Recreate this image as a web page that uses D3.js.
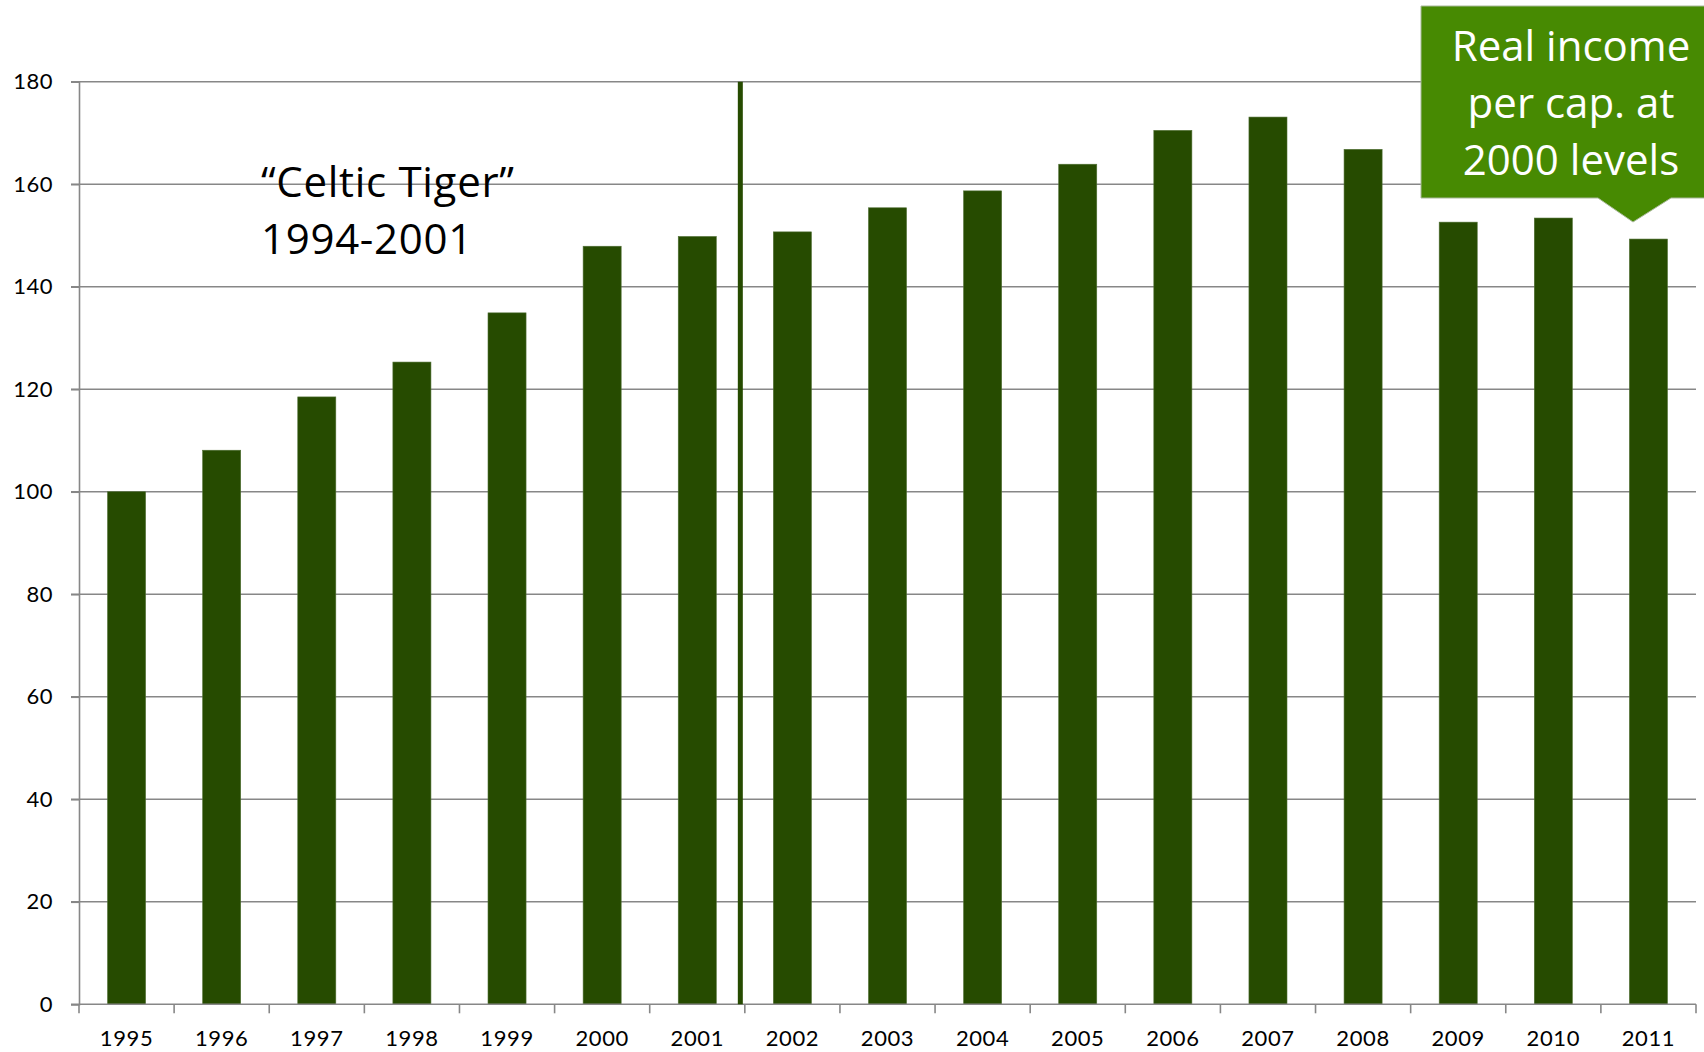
<!DOCTYPE html>
<html>
<head>
<meta charset="utf-8">
<script src="https://cdn.jsdelivr.net/npm/d3@7"></script>
<style>
  html, body { margin: 0; padding: 0; background: #ffffff; }
  svg { display: block; }
  text { font-family: Lato, "Open Sans", "Noto Sans", sans-serif; }
</style>
</head>
<body>
<svg id="chart" width="1704" height="1052"></svg>
<script>
// Real income per capita index (1995 = 100)
const years = ["1995","1996","1997","1998","1999","2000","2001","2002","2003",
               "2004","2005","2006","2007","2008","2009","2010","2011"];
const incomeIndex = [100, 108.1, 118.5, 125.3, 134.9, 147.9, 149.8, 150.7, 155.4,
                     158.7, 163.9, 170.5, 173.1, 166.8, 152.6, 153.4, 149.3];
const yTicks = [0, 20, 40, 60, 80, 100, 120, 140, 160, 180];
const periodLabel = ["\u201CCeltic Tiger\u201D", "1994-2001"];
const periodEndYear = "2001";
const calloutLines = ["Real income", "per cap. at", "2000 levels"];

const data = years.map((yr, i) => ({ year: yr, value: incomeIndex[i] }));

const svg = d3.select("#chart");
const plotLeft = 79, plotRight = 1696, plotTop = 81.7, plotBottom = 1004.3;

const x = d3.scaleBand()
  .domain(years)
  .range([plotLeft, plotRight])
  .paddingInner(0.6)
  .paddingOuter(0.3);

const y = d3.scaleLinear()
  .domain([0, 180])
  .range([plotBottom, plotTop]);

const gridColor = "#878787";
const barColor = "#264b00";
const labelFont = "Lato, sans-serif";
const noteFont = "'Open Sans', sans-serif";

// horizontal gridlines (including the top one)
svg.append("g")
  .selectAll("line")
  .data(yTicks.filter(t => t > 0))
  .join("line")
  .attr("x1", plotLeft - 8)
  .attr("x2", plotRight)
  .attr("y1", d => y(d))
  .attr("y2", d => y(d))
  .attr("stroke", gridColor)
  .attr("stroke-width", 1.6);

// y axis
const yAxis = svg.append("g")
  .attr("transform", `translate(${plotLeft},0)`)
  .call(d3.axisLeft(y).tickValues(yTicks).tickSize(8).tickPadding(18));
yAxis.select(".domain").attr("stroke", gridColor).attr("stroke-width", 1.6);
yAxis.selectAll(".tick line").attr("stroke", gridColor).attr("stroke-width", 1.6);
yAxis.selectAll(".tick text")
  .attr("font-size", 22)
  .attr("fill", "#000")
  .style("letter-spacing", "0.5px")
  .style("font-family", labelFont);

// bars
svg.append("g")
  .selectAll("rect")
  .data(data)
  .join("rect")
  .attr("x", d => x(d.year))
  .attr("width", x.bandwidth())
  .attr("y", d => y(d.value))
  .attr("height", d => y(0) - y(d.value))
  .attr("fill", barColor)
  .attr("stroke", "#4f6f33")
  .attr("stroke-width", 0.6);

// x axis: labels centred under bars, ticks at category boundaries
const gap = x.step() - x.bandwidth();
const boundaries = years.map(yr => x(yr) - gap / 2).concat([plotRight]);

const xAxis = svg.append("g")
  .attr("transform", `translate(0,${plotBottom})`)
  .call(d3.axisBottom(x).tickSize(0).tickPadding(26));
xAxis.select(".domain").remove();
xAxis.selectAll(".tick text")
  .attr("font-size", 22)
  .attr("fill", "#000")
  .style("letter-spacing", "0.6px")
  .style("font-family", labelFont);

svg.append("line")
  .attr("x1", plotLeft - 8).attr("x2", plotRight)
  .attr("y1", plotBottom).attr("y2", plotBottom)
  .attr("stroke", gridColor).attr("stroke-width", 1.6);

svg.append("g")
  .selectAll("line")
  .data(boundaries)
  .join("line")
  .attr("x1", d => d).attr("x2", d => d)
  .attr("y1", plotBottom).attr("y2", plotBottom + 9)
  .attr("stroke", gridColor).attr("stroke-width", 1.6);

// end-of-period divider
const dividerX = x(periodEndYear) + x.bandwidth() + gap / 2 - 4.5;
svg.append("line")
  .attr("x1", dividerX).attr("x2", dividerX)
  .attr("y1", y(180)).attr("y2", y(0))
  .attr("stroke", barColor)
  .attr("stroke-width", 5);

// period annotation
const note = svg.append("text")
  .attr("x", 261)
  .attr("y", 197)
  .attr("font-size", 42)
  .style("font-family", noteFont)
  .style("letter-spacing", "0.7px")
  .attr("fill", "#000");
note.selectAll("tspan")
  .data(periodLabel)
  .join("tspan")
  .attr("x", 261)
  .attr("dy", (d, i) => i === 0 ? 0 : 57)
  .text(d => d);

// callout box with pointer
const calloutColor = "#478a02";
const bx0 = 1421, bx1 = 1706, by0 = 6, by1 = 198;
const tipX = 1633, tipY = 222;
svg.append("path")
  .attr("d", `M${bx0},${by0} L${bx1},${by0} L${bx1},${by1} L${tipX + 38},${by1} L${tipX},${tipY} L${tipX - 35},${by1} L${bx0},${by1} Z`)
  .attr("fill", calloutColor)
  .attr("stroke", "#a9b99a")
  .attr("stroke-width", 1);

svg.append("g")
  .selectAll("text")
  .data(calloutLines)
  .join("text")
  .attr("x", 1571)
  .attr("y", (d, i) => 61 + i * 57)
  .attr("text-anchor", "middle")
  .attr("font-size", 42)
  .style("font-family", noteFont)
  .attr("fill", "#ffffff")
  .text(d => d);
</script>
</body>
</html>
